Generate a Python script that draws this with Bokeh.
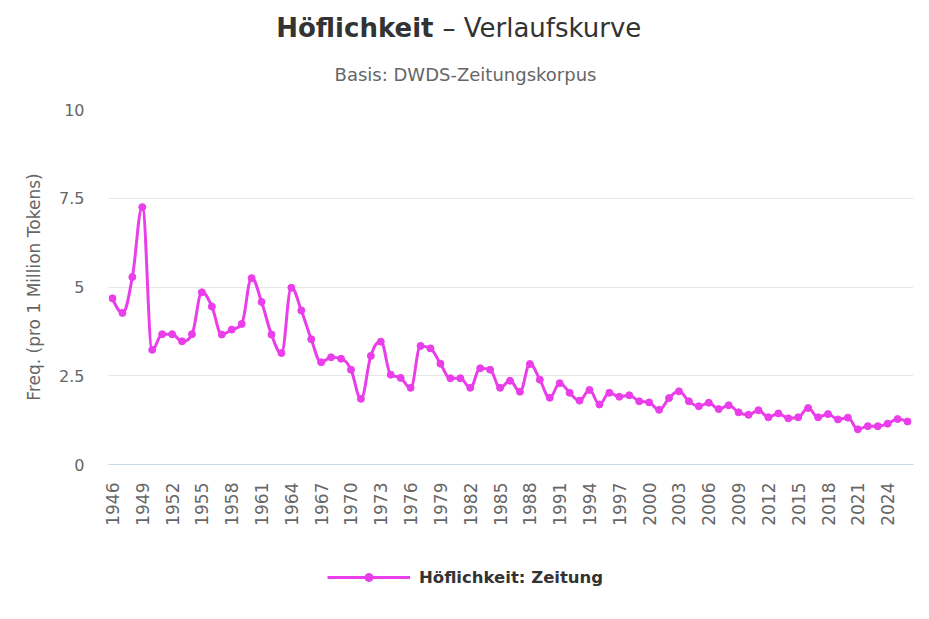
from bokeh.plotting import figure
from bokeh.layouts import column
from bokeh.models import (Range1d, FixedTicker, Label, Legend, LegendItem, ColumnDataSource)
from bokeh.embed import file_html
from bokeh.resources import INLINE
import math

years = list(range(1946, 2027))
values = [4.68, 4.27, 5.28, 7.25, 3.23, 3.67, 3.67, 3.47, 3.67, 4.85,
          4.45, 3.66, 3.80, 3.96, 5.25, 4.58, 3.66, 3.14, 4.98, 4.34,
          3.53, 2.88, 3.02, 2.98, 2.67, 1.85, 3.06, 3.46, 2.53, 2.44,
          2.16, 3.34, 3.27, 2.84, 2.43, 2.43, 2.16, 2.71, 2.67, 2.16,
          2.36, 2.05, 2.83, 2.39, 1.88, 2.29, 2.02, 1.80, 2.10, 1.69,
          2.02, 1.91, 1.95, 1.78, 1.75, 1.54, 1.87, 2.06, 1.78, 1.64,
          1.74, 1.56, 1.67, 1.47, 1.40, 1.53, 1.33, 1.44, 1.30, 1.33,
          1.59, 1.33, 1.42, 1.27, 1.32, 0.99, 1.08, 1.08, 1.15, 1.28,
          1.21]
x_ticks = list(range(1946, 2025, 3))
y_ticks = [0, 2.5, 5, 7.5, 10]
y_tick_labels = ["0", "2.5", "5", "7.5", "10"]

title_bold = "Höflichkeit"
title_rest = "– Verlaufskurve"
subtitle = "Basis: DWDS-Zeitungskorpus"
y_title = "Freq. (pro 1 Million Tokens)"
series_name = "Höflichkeit: Zeitung"

COLOR = "#e93ee9"
FONT = "DejaVu Sans"
W = 921
FL = 108   # left edge of the (aligned) plot frames in the column


def spline_controls(xs, ys, smoothing=1.5):
    """Highcharts-style spline: bezier control points for drawing through the points."""
    n = len(xs)
    left = [(xs[i], ys[i]) for i in range(n)]
    right = [(xs[i], ys[i]) for i in range(n)]
    denom = smoothing + 1
    for i in range(1, n - 1):
        x, y = xs[i], ys[i]
        lx, ly = xs[i - 1], ys[i - 1]
        nx, ny = xs[i + 1], ys[i + 1]
        lcx = (smoothing * x + lx) / denom
        lcy = (smoothing * y + ly) / denom
        rcx = (smoothing * x + nx) / denom
        rcy = (smoothing * y + ny) / denom
        if rcx != lcx:
            corr = ((rcy - lcy) * (rcx - x)) / (rcx - lcx) + y - rcy
            lcy += corr
            rcy += corr
        if lcy > ly and lcy > y:
            lcy = max(ly, y)
            rcy = 2 * y - lcy
        elif lcy < ly and lcy < y:
            lcy = min(ly, y)
            rcy = 2 * y - lcy
        if rcy > ny and rcy > y:
            rcy = max(ny, y)
            lcy = 2 * y - rcy
        elif rcy < ny and rcy < y:
            rcy = min(ny, y)
            lcy = 2 * y - rcy
        left[i] = (lcx, lcy)
        right[i] = (rcx, rcy)
    seg = dict(x0=[], y0=[], x1=[], y1=[], cx0=[], cy0=[], cx1=[], cy1=[])
    for i in range(1, n):
        seg["x0"].append(xs[i - 1]); seg["y0"].append(ys[i - 1])
        seg["x1"].append(xs[i]); seg["y1"].append(ys[i])
        seg["cx0"].append(right[i - 1][0]); seg["cy0"].append(right[i - 1][1])
        seg["cx1"].append(left[i][0]); seg["cy1"].append(left[i][1])
    return seg


def blank(fig):
    fig.axis.visible = False
    fig.grid.visible = False
    fig.outline_line_color = None
    fig.min_border = 0
    fig.background_fill_color = "white"
    fig.border_fill_color = "white"


# ---- header (title + subtitle) ----
HH = 100
head = figure(width=W, height=HH, output_backend="svg", toolbar_location=None,
              x_range=Range1d(0, 1), y_range=Range1d(0, 1))
blank(head)
head.add_layout(Label(x=433 - FL, y=HH - 27, x_units="screen", y_units="screen", text=title_bold,
                      text_font=FONT, text_font_size="26px", text_font_style="bold",
                      text_color="#333333", text_align="right", text_baseline="middle"))
head.add_layout(Label(x=442 - FL, y=HH - 27, x_units="screen", y_units="screen", text=title_rest,
                      text_font=FONT, text_font_size="26px", text_font_style="normal",
                      text_color="#333333", text_align="left", text_baseline="middle"))
head.add_layout(Label(x=465 - FL, y=HH - 74, x_units="screen", y_units="screen", text=subtitle,
                      text_font=FONT, text_font_size="18px", text_color="#666666",
                      text_align="center", text_baseline="middle"))

# ---- main chart ----
MH = 445
p = figure(width=W, height=MH, output_backend="svg", toolbar_location=None,
           x_range=Range1d(1945.6, 2026.6), y_range=Range1d(0, 10),
           min_border_left=FL, min_border_right=8, min_border_top=9,
           min_border_bottom=MH - 9 - 355)
p.outline_line_color = None
p.background_fill_color = "white"
p.border_fill_color = "white"

bez = p.bezier(source=ColumnDataSource(spline_controls(years, values)),
               x0="x0", y0="y0", x1="x1", y1="y1", cx0="cx0", cy0="cy0",
               cx1="cx1", cy1="cy1", line_color=COLOR, line_width=3)
pts = p.scatter(years, values, size=7, color=COLOR, line_color=COLOR)

p.xgrid.grid_line_color = None
p.ygrid.grid_line_color = "#e6e6e6"
p.ygrid.ticker = FixedTicker(ticks=y_ticks)

xa = p.xaxis[0]
xa.ticker = FixedTicker(ticks=x_ticks)
xa.major_label_orientation = math.pi / 2
xa.axis_line_color = "#ccd6eb"
xa.major_tick_line_color = None
xa.minor_tick_line_color = None
xa.major_tick_out = 0
xa.major_tick_in = 0
xa.major_label_standoff = 18
xa.major_label_text_font = FONT
xa.major_label_text_font_size = "17px"
xa.major_label_text_color = "#666666"

ya = p.yaxis[0]
ya.ticker = FixedTicker(ticks=y_ticks)
ya.major_label_overrides = {t: l for t, l in zip(y_ticks, y_tick_labels)}
ya.axis_line_color = None
ya.major_tick_line_color = None
ya.minor_tick_line_color = None
ya.major_tick_out = 0
ya.major_tick_in = 0
ya.major_label_standoff = 24
ya.major_label_text_font = FONT
ya.major_label_text_font_size = "16px"
ya.major_label_text_color = "#666666"
ya.axis_label = y_title
ya.axis_label_text_font = FONT
ya.axis_label_text_font_size = "17px"
ya.axis_label_text_font_style = "normal"
ya.axis_label_text_color = "#666666"
ya.axis_label_standoff = 12

# ---- footer (legend) ----
FH = 66
foot = figure(width=W, height=FH, output_backend="svg", toolbar_location=None,
              x_range=Range1d(0, 1), y_range=Range1d(0, 1))
blank(foot)
# legend-only renderers: their single point lies outside the visible range
leg_line = foot.line(x=[-5, -4], y=[-5, -5], line_color=COLOR, line_width=3)
leg_pt = foot.scatter(x=[-5], y=[-5], size=7, color=COLOR, line_color=COLOR)
legend = Legend(items=[LegendItem(label=series_name, renderers=[leg_line, leg_pt])],
                location=(327 - FL, FH - 32 - 10), orientation="horizontal",
                glyph_width=83, glyph_height=20, label_standoff=9,
                padding=0, margin=0, border_line_color=None,
                background_fill_alpha=0,
                label_text_font=FONT, label_text_font_size="16.5px",
                label_text_font_style="bold", label_text_color="#333333")
foot.add_layout(legend, "center")

layout = column(head, p, foot, spacing=0)
open("out.html", "w").write(file_html(layout, INLINE))
